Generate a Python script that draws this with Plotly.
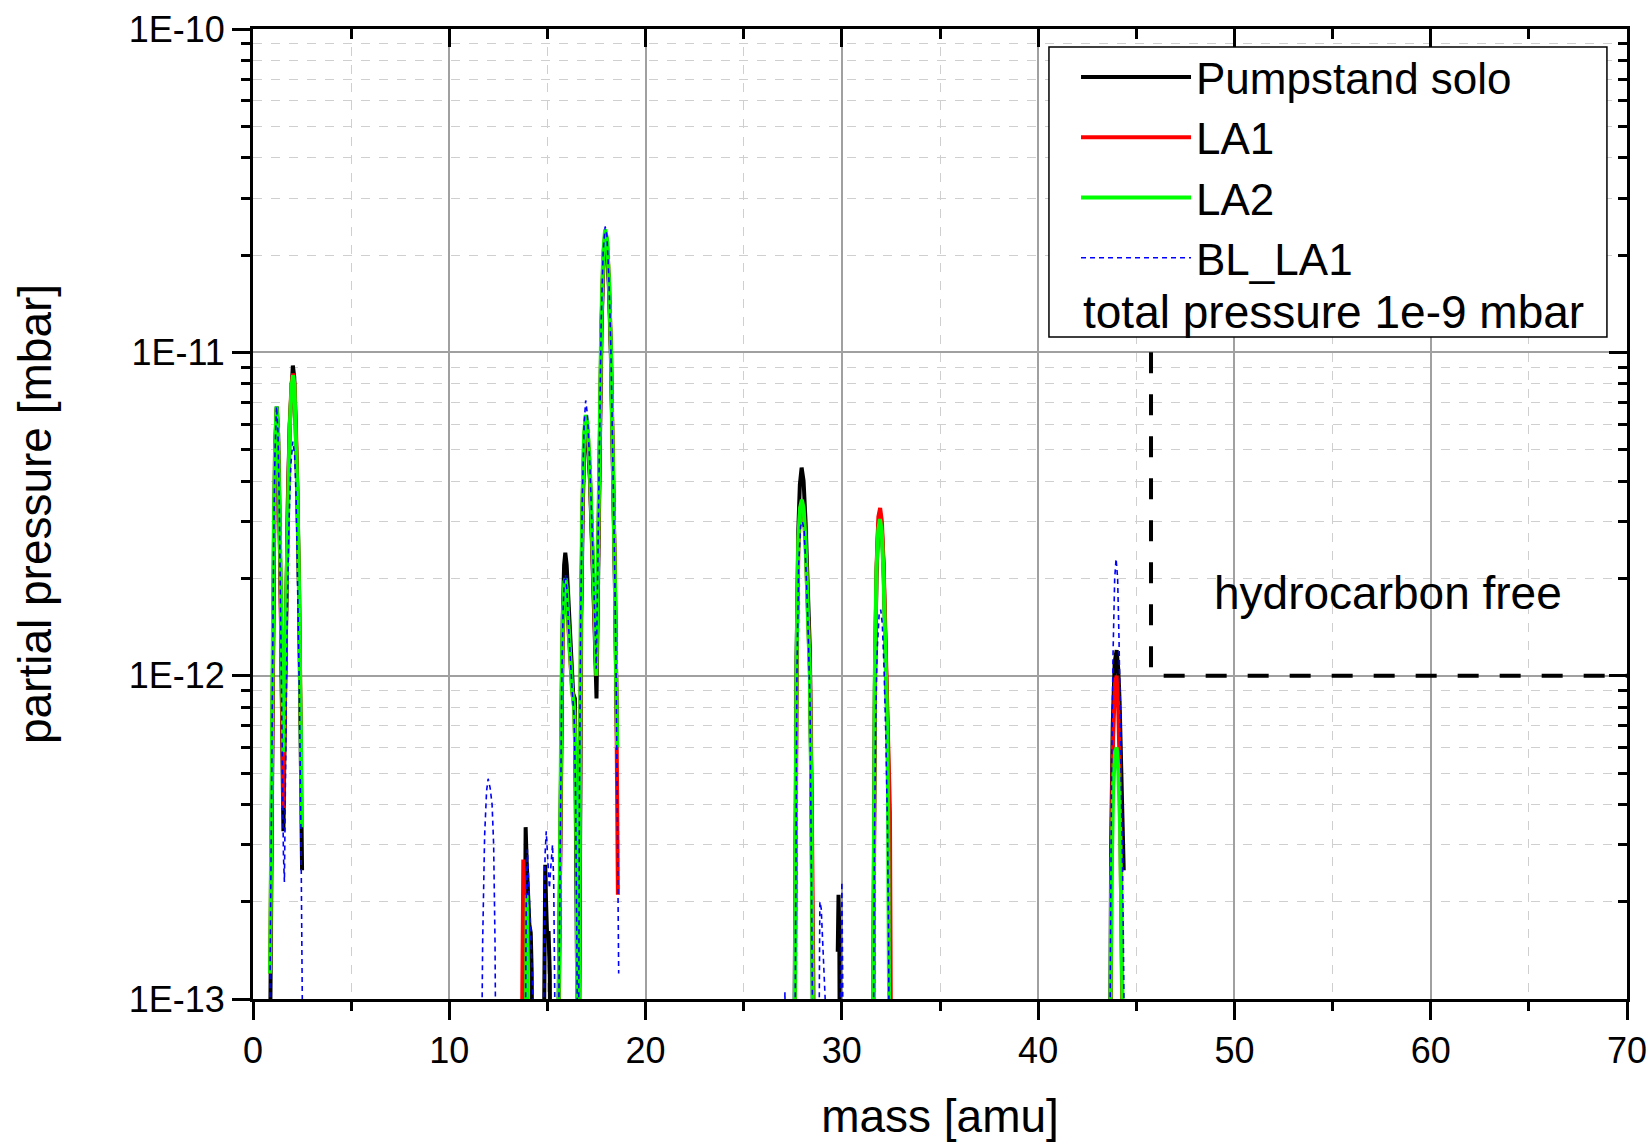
import plotly.graph_objects as go

# ---------------- data ----------------
N = None
pump_mass = [0.85, 0.9, 0.95, 1.0, 1.07, 1.14, 1.21, 1.28, 1.35, 1.42, 1.49, 1.55, 1.62, 1.7, 1.78, 1.87, 1.96, 2.03, 2.1, 2.18, 2.26, 2.34, 2.42, 2.5, N,
             13.8, 13.85, 13.89, 13.94, 14.0, 14.08, 14.15, 14.2, 14.23, N,
             14.8, 14.85, 14.89, 14.93, 14.98, 15.06, 15.12, 15.15, N,
             15.52, 15.58, 15.64, 15.71, 15.78, 15.85, 15.91, 15.98, 16.06, 16.14, 16.23, 16.31, 16.4, 16.47, 16.53, 16.56, N,
             16.6, 16.65, 16.72, 16.8, 16.88, 16.96, 17.05, 17.17, 17.33, 17.41, 17.5, 17.56, 17.65, 17.75, 17.85, 17.94, 18.03, 18.13, 18.23, 18.33, 18.43, 18.5, 18.55, N,
             27.57, 27.63, 27.69, 27.78, 27.86, 27.95, 28.05, 28.15, 28.26, 28.37, 28.45, 28.5, 28.55, N,
             29.79, 29.83, 29.87, 29.9, N,
             31.57, 31.62, 31.68, 31.76, 31.85, 31.94, 32.03, 32.12, 32.2, 32.28, 32.35, 32.42, 32.46, 32.48, N,
             43.66, 43.72, 43.8, 43.9, 44.0, 44.08, 44.15, 44.22, 44.3, 44.36]
pump_p = [5e-14, 1.5e-13, 4e-13, 1.1e-12, 2.7e-12, 5.2e-12, 6.8e-12, 5.6e-12, 3.4e-12, 1.6e-12, 6.5e-13, 3.3e-13, 7.5e-13, 1.8e-12, 3.6e-12, 6.0e-12, 8.3e-12, 9.1e-12, 8.4e-12, 6.2e-12, 3.8e-12, 1.9e-12, 7.5e-13, 2.5e-13, N,
          5e-14, 2.2e-13, 3.4e-13, 2.7e-13, 2.0e-13, 1.7e-13, 1.6e-13, 1.2e-13, 5e-14, N,
          5e-14, 1.8e-13, 2.6e-13, 2.0e-13, 1.6e-13, 1.6e-13, 1.2e-13, 5e-14, N,
          5e-14, 1.3e-13, 3.5e-13, 8.5e-13, 1.5e-12, 2.2e-12, 2.4e-12, 2.2e-12, 1.7e-12, 1.3e-12, 1.07e-12, 8.8e-13, 8.5e-13, 3.5e-13, 1.2e-13, 5e-14, N,
          5e-14, 4e-13, 1.5e-12, 3.3e-12, 5.2e-12, 5.9e-12, 5.3e-12, 4.0e-12, 2.2e-12, 1.35e-12, 8.5e-13, 1.7e-12, 5.2e-12, 1.15e-11, 1.9e-11, 2.2e-11, 2.1e-11, 1.6e-11, 1.0e-11, 5.2e-12, 2.1e-12, 1.0e-12, 6e-13, N,
          5e-14, 2.5e-13, 1.1e-12, 2.8e-12, 3.9e-12, 4.4e-12, 4.0e-12, 3.0e-12, 2.0e-12, 1.2e-12, 4.2e-13, 1.8e-13, 5e-14, N,
          1.4e-13, 2.1e-13, 1.6e-13, 5e-14, N,
          5e-14, 2.5e-13, 9e-13, 2.0e-12, 2.9e-12, 3.2e-12, 2.9e-12, 2.2e-12, 1.5e-12, 9.5e-13, 6e-13, 3.3e-13, 1.2e-13, 5e-14, N,
          5e-14, 3e-13, 7e-13, 1.1e-12, 1.2e-12, 1.05e-12, 8.3e-13, 5.5e-13, 3.5e-13, 2.5e-13]

la1_mass = [0.87, 0.92, 0.98, 1.05, 1.12, 1.2, 1.27, 1.34, 1.41, 1.48, 1.55, 1.62, 1.7, 1.78, 1.87, 1.96, 2.04, 2.11, 2.19, 2.27, 2.35, 2.43, N,
            13.68, 13.73, 13.77, 13.82, 13.87, N,
            15.54, 15.6, 15.66, 15.73, 15.8, 15.86, 15.92, 15.99, 16.07, 16.16, 16.26, 16.36, 16.44, 16.5, 16.55, N,
            16.59, 16.64, 16.71, 16.79, 16.87, 16.95, 17.04, 17.16, 17.3, 17.4, 17.49, 17.56, 17.65, 17.75, 17.85, 17.95, 18.04, 18.14, 18.24, 18.34, 18.44, 18.51, 18.56, 18.59, N,
            27.59, 27.64, 27.7, 27.79, 27.88, 27.97, 28.06, 28.16, 28.27, 28.38, 28.47, 28.54, 28.6, N,
            31.58, 31.63, 31.69, 31.77, 31.86, 31.95, 32.04, 32.13, 32.22, 32.3, 32.38, 32.45, 32.48, 32.51, N,
            43.68, 43.74, 43.82, 43.92, 44.0, 44.08, 44.16, 44.24, 44.3, 44.33]
la1_p = [1.2e-13, 3e-13, 9e-13, 2.4e-12, 4.8e-12, 6.7e-12, 5.7e-12, 3.5e-12, 1.7e-12, 7e-13, 3.9e-13, 8e-13, 1.8e-12, 3.5e-12, 5.8e-12, 8.0e-12, 8.6e-12, 8.0e-12, 5.9e-12, 3.6e-12, 1.8e-12, 7e-13, N,
         5e-14, 2.0e-13, 2.7e-13, 2.1e-13, 5e-14, N,
         5e-14, 1.4e-13, 4e-13, 9e-13, 1.5e-12, 1.85e-12, 1.9e-12, 1.75e-12, 1.4e-12, 1.1e-12, 9e-13, 8e-13, 5.5e-13, 2.7e-13, 5e-14, N,
         5e-14, 4e-13, 1.5e-12, 3.4e-12, 5.4e-12, 6.2e-12, 5.8e-12, 4.3e-12, 2.5e-12, 1.5e-12, 1.0e-12, 1.8e-12, 5.3e-12, 1.2e-11, 2.0e-11, 2.35e-11, 2.2e-11, 1.65e-11, 1.0e-11, 5e-12, 2e-12, 9e-13, 4e-13, 2.1e-13, N,
         5e-14, 3e-13, 1.1e-12, 2.6e-12, 3.3e-12, 3.4e-12, 3.2e-12, 2.5e-12, 1.7e-12, 1.0e-12, 4e-13, 1.5e-13, 5e-14, N,
         5e-14, 3e-13, 1.0e-12, 2.2e-12, 3.1e-12, 3.3e-12, 3.0e-12, 2.2e-12, 1.4e-12, 8.5e-13, 5e-13, 3.8e-13, 1.5e-13, 5e-14, N,
         5e-14, 3e-13, 6.5e-13, 9.5e-13, 1.0e-12, 8e-13, 5e-13, 2.5e-13, 1.2e-13, 5e-14]

la2_mass = [0.87, 0.92, 0.98, 1.05, 1.12, 1.2, 1.27, 1.34, 1.41, 1.48, 1.55, 1.62, 1.7, 1.78, 1.87, 1.96, 2.04, 2.11, 2.19, 2.27, 2.35, 2.43, 2.49, N,
            13.88, 13.92, 13.95, 13.99, 14.03, N,
            15.53, 15.59, 15.65, 15.72, 15.79, 15.86, 15.92, 15.99, 16.07, 16.16, 16.26, 16.36, 16.43, 16.49, 16.53, N,
            16.58, 16.63, 16.7, 16.78, 16.87, 16.95, 17.04, 17.16, 17.3, 17.4, 17.49, 17.55, 17.64, 17.74, 17.84, 17.94, 18.03, 18.13, 18.23, 18.33, 18.43, 18.5, 18.55, N,
            27.58, 27.63, 27.69, 27.78, 27.87, 27.96, 28.05, 28.15, 28.26, 28.37, 28.45, 28.51, 28.55, N,
            31.57, 31.62, 31.68, 31.76, 31.85, 31.94, 32.03, 32.12, 32.2, 32.28, 32.35, 32.4, 32.43, N,
            43.66, 43.72, 43.82, 43.92, 44.0, 44.08, 44.18, 44.27, 44.33, 44.36]
la2_p = [1.2e-13, 3.2e-13, 9e-13, 2.5e-12, 4.9e-12, 6.8e-12, 5.8e-12, 3.8e-12, 2.0e-12, 1.0e-12, 5.8e-13, 1.0e-12, 2.0e-12, 3.6e-12, 5.8e-12, 7.8e-12, 8.5e-12, 7.9e-12, 5.8e-12, 3.5e-12, 1.8e-12, 7.5e-13, 3.4e-13, N,
         5e-14, 1.6e-13, 2.1e-13, 1.4e-13, 5e-14, N,
         5e-14, 1.4e-13, 4e-13, 9.5e-13, 1.55e-12, 1.95e-12, 2.0e-12, 1.85e-12, 1.45e-12, 1.1e-12, 9e-13, 8e-13, 5.5e-13, 2.5e-13, 5e-14, N,
         5e-14, 4e-13, 1.5e-12, 3.4e-12, 5.6e-12, 6.4e-12, 6.0e-12, 4.4e-12, 2.6e-12, 1.6e-12, 1.0e-12, 1.8e-12, 5.4e-12, 1.2e-11, 2.0e-11, 2.4e-11, 2.25e-11, 1.7e-11, 1.05e-11, 5.3e-12, 2.1e-12, 1.0e-12, 6e-13, N,
         5e-14, 3e-13, 1.1e-12, 2.6e-12, 3.3e-12, 3.5e-12, 3.3e-12, 2.6e-12, 1.7e-12, 1.0e-12, 4e-13, 1.5e-13, 5e-14, N,
         5e-14, 3e-13, 1.0e-12, 2.1e-12, 2.8e-12, 3.05e-12, 2.8e-12, 2.1e-12, 1.4e-12, 8.5e-13, 4.5e-13, 2e-13, 5e-14, N,
         5e-14, 2e-13, 4.5e-13, 5.8e-13, 6e-13, 5.2e-13, 3.3e-13, 1.8e-13, 1.1e-13, 5e-14]

bl_la1_mass = [0.82, 0.87, 0.92, 0.98, 1.05, 1.12, 1.2, 1.27, 1.34, 1.41, 1.48, 1.55, 1.6, 1.66, 1.74, 1.83, 1.93, 2.03, 2.12, 2.2, 2.28, 2.36, 2.44, 2.5, 2.55, N,
               11.63, 11.7, 11.8, 11.9, 11.98, 12.08, 12.18, 12.26, 12.33, 12.38, N,
               13.86, 13.92, 13.98, 14.05, 14.15, 14.24, 14.3, N,
               14.76, 14.82, 14.88, 14.94, 15.02, 15.1, 15.18, 15.26, 15.32, 15.38, 15.42, N,
               15.54, 15.6, 15.66, 15.73, 15.8, 15.86, 15.92, 15.99, 16.07, 16.16, 16.26, 16.36, 16.43, 16.5, 16.54, N,
               16.58, 16.63, 16.7, 16.78, 16.87, 16.95, 17.04, 17.16, 17.3, 17.4, 17.49, 17.55, 17.64, 17.74, 17.84, 17.94, 18.03, 18.13, 18.23, 18.33, 18.43, 18.51, 18.57, 18.61, 18.63, N,
               27.05, 27.1, 27.15, N,
               27.6, 27.65, 27.71, 27.8, 27.9, 27.99, 28.08, 28.18, 28.28, 28.38, 28.45, 28.5, 28.54, N,
               28.82, 28.88, 28.95, 29.05, 29.15, 29.2, N,
               29.92, 29.97, 30.0, 30.04, 30.07, N,
               31.6, 31.65, 31.72, 31.8, 31.9, 31.98, 32.06, 32.15, 32.24, 32.32, 32.38, 32.42, N,
               43.64, 43.68, 43.74, 43.82, 43.9, 43.97, 44.05, 44.12, 44.2, 44.3, 44.36, 44.4]
bl_la1_p = [5e-14, 1.2e-13, 3.2e-13, 9e-13, 2.5e-12, 4.9e-12, 6.8e-12, 5.7e-12, 3.4e-12, 1.5e-12, 6e-13, 2.8e-13, 2.3e-13, 6e-13, 1.5e-12, 2.9e-12, 4.5e-12, 5.3e-12, 4.8e-12, 3.5e-12, 2.0e-12, 9e-13, 3.5e-13, 1.3e-13, 5e-14, N,
            5e-14, 1.5e-13, 3.2e-13, 4.4e-13, 4.8e-13, 4.5e-13, 4.0e-13, 3.0e-13, 1.5e-13, 5e-14, N,
            5e-14, 2e-13, 2.9e-13, 2.3e-13, 1.5e-13, 1.1e-13, 5e-14, N,
            5e-14, 1.6e-13, 2.8e-13, 3.3e-13, 2.8e-13, 2.2e-13, 2.6e-13, 3.0e-13, 2.3e-13, 1.3e-13, 5e-14, N,
            5e-14, 1.4e-13, 4e-13, 9.5e-13, 1.6e-12, 2.0e-12, 2.05e-12, 1.85e-12, 1.45e-12, 1.1e-12, 9e-13, 7.5e-13, 4.5e-13, 1.5e-13, 5e-14, N,
            5e-14, 4.2e-13, 1.6e-12, 3.6e-12, 6.0e-12, 7.1e-12, 6.4e-12, 4.5e-12, 2.6e-12, 1.6e-12, 1.05e-12, 1.9e-12, 5.6e-12, 1.25e-11, 2.05e-11, 2.45e-11, 2.3e-11, 1.7e-11, 1.05e-11, 5.3e-12, 2.1e-12, 9e-13, 3.5e-13, 1.8e-13, 1.2e-13, N,
            5e-14, 1.05e-13, 5e-14, N,
            5e-14, 3e-13, 1.0e-12, 2.2e-12, 2.9e-12, 3.0e-12, 2.8e-12, 2.1e-12, 1.4e-12, 8e-13, 3.5e-13, 1.3e-13, 5e-14, N,
            5e-14, 2.0e-13, 1.9e-13, 1.4e-13, 1.0e-13, 5e-14, N,
            5e-14, 1.5e-13, 2.3e-13, 1.2e-13, 5e-14, N,
            5e-14, 2.5e-13, 7e-13, 1.2e-12, 1.55e-12, 1.6e-12, 1.45e-12, 1.05e-12, 6.5e-13, 3.5e-13, 1.6e-13, 5e-14, N,
            5e-14, 1.5e-13, 5e-13, 1.2e-12, 2.0e-12, 2.3e-12, 2.0e-12, 1.3e-12, 6.8e-13, 2.6e-13, 1.2e-13, 5e-14]

# hydrocarbon-free boundary (mass > 45.75 amu, p < 1e-12 mbar)
hc_mass = [45.75, 45.75, 70]
hc_p = [1e-11, 1e-12, 1e-12]

series_names = ["Pumpstand solo", "LA1", "LA2", "BL_LA1"]
x_ticks = [0, 10, 20, 30, 40, 50, 60, 70]
y_tickvals = [1e-13, 1e-12, 1e-11, 1e-10]
y_ticktext = ["1E-13", "1E-12", "1E-11", "1E-10"]

FONT = "Liberation Sans, Arial, sans-serif"

fig = go.Figure()
styles = [
    (pump_mass, pump_p, "#000000", 4, "solid"),
    (la1_mass, la1_p, "#ff0000", 4, "solid"),
    (la2_mass, la2_p, "#00ff00", 4, "solid"),
    (bl_la1_mass, bl_la1_p, "#0000ff", 1.6, "5px,4px"),
]
for name, (m, p, col, w, d) in zip(series_names, styles):
    fig.add_trace(go.Scatter(x=m, y=p, mode="lines", name=name, connectgaps=False,
                             line=dict(color=col, width=w, dash=d)))

fig.add_trace(go.Scatter(x=hc_mass, y=hc_p, mode="lines", showlegend=False,
                         line=dict(color="black", width=4, dash="21px,21px")))
# mirror axes (top / right) with inward ticks
fig.add_trace(go.Scatter(x=[None], y=[None], xaxis="x2", yaxis="y2", showlegend=False,
                         hoverinfo="skip"))

major_grid = "#a0a0a0"
minor_grid = "#cfcfcf"

fig.update_layout(
    width=1651, height=1142,
    margin=dict(l=253, r=24, t=29, b=143, autoexpand=False),
    paper_bgcolor="white", plot_bgcolor="white",
    font=dict(family=FONT, color="black"),
    showlegend=True,
    xaxis=dict(range=[0, 70], tickvals=x_ticks, ticks="outside", ticklen=18, tickwidth=3,
               tickcolor="black", showline=True, linecolor="black", linewidth=3,
               showgrid=True, gridcolor=major_grid, gridwidth=1.5, zeroline=False,
               tickfont=dict(size=36), automargin=False,
               minor=dict(dtick=5, tick0=0, ticks="outside", ticklen=9, tickwidth=3,
                          tickcolor="black", showgrid=True, gridcolor=minor_grid,
                          gridwidth=1, griddash="dash"),
               title=dict(text="mass [amu]", font=dict(size=46), standoff=32)),
    yaxis=dict(type="log", range=[-13, -10], tickmode="array", tickvals=y_tickvals,
               ticktext=y_ticktext, ticks="outside", ticklen=18, tickwidth=3,
               tickcolor="black", showline=True, linecolor="black", linewidth=3,
               showgrid=True, gridcolor=major_grid, gridwidth=1.5, zeroline=False,
               tickfont=dict(size=36), automargin=False,
               minor=dict(dtick="D1", ticks="outside", ticklen=9, tickwidth=3,
                          tickcolor="black", showgrid=True, gridcolor=minor_grid,
                          gridwidth=1, griddash="dash"),
               title=dict(text="partial pressure [mbar]", font=dict(size=46), standoff=63)),
    xaxis2=dict(overlaying="x", side="top", anchor="y", range=[0, 70], tickvals=x_ticks,
                ticks="inside", ticklen=18, tickwidth=3, tickcolor="black",
                showline=True, linecolor="black", linewidth=3, showticklabels=False,
                showgrid=False, zeroline=False, automargin=False,
                minor=dict(dtick=5, tick0=0, ticks="inside", ticklen=10, tickwidth=3,
                           tickcolor="black", showgrid=False)),
    yaxis2=dict(overlaying="y", side="right", anchor="x", type="log", range=[-13, -10],
                tickmode="array", tickvals=y_tickvals, ticks="inside", ticklen=18,
                tickwidth=3, tickcolor="black", showline=True, linecolor="black",
                linewidth=3, showticklabels=False, showgrid=False, zeroline=False,
                automargin=False,
                minor=dict(dtick="D1", ticks="inside", ticklen=9, tickwidth=3,
                           tickcolor="black", showgrid=False)),
    legend=dict(x=0.599, y=0.9866, xanchor="left", yanchor="top",
                bgcolor="rgba(0,0,0,0)", borderwidth=0, itemwidth=110,
                font=dict(size=44, family=FONT, color="black")),
    shapes=[dict(type="rect", xref="paper", yref="paper", x0=0.5793, x1=0.9854,
                 y0=0.6825, y1=0.9814, line=dict(color="black", width=1.5),
                 fillcolor="white", layer="above")],
    annotations=[
        dict(text="total pressure 1e-9 mbar", xref="paper", yref="paper", x=0.6026, y=0.708,
             xanchor="left", yanchor="middle", showarrow=False, font=dict(size=46)),
        dict(text="hydrocarbon free", xref="x", yref="y", x=57.8, y=-11.745,
             xanchor="center", yanchor="middle", showarrow=False, font=dict(size=46)),
    ],
)

fig.write_html("out.html")
